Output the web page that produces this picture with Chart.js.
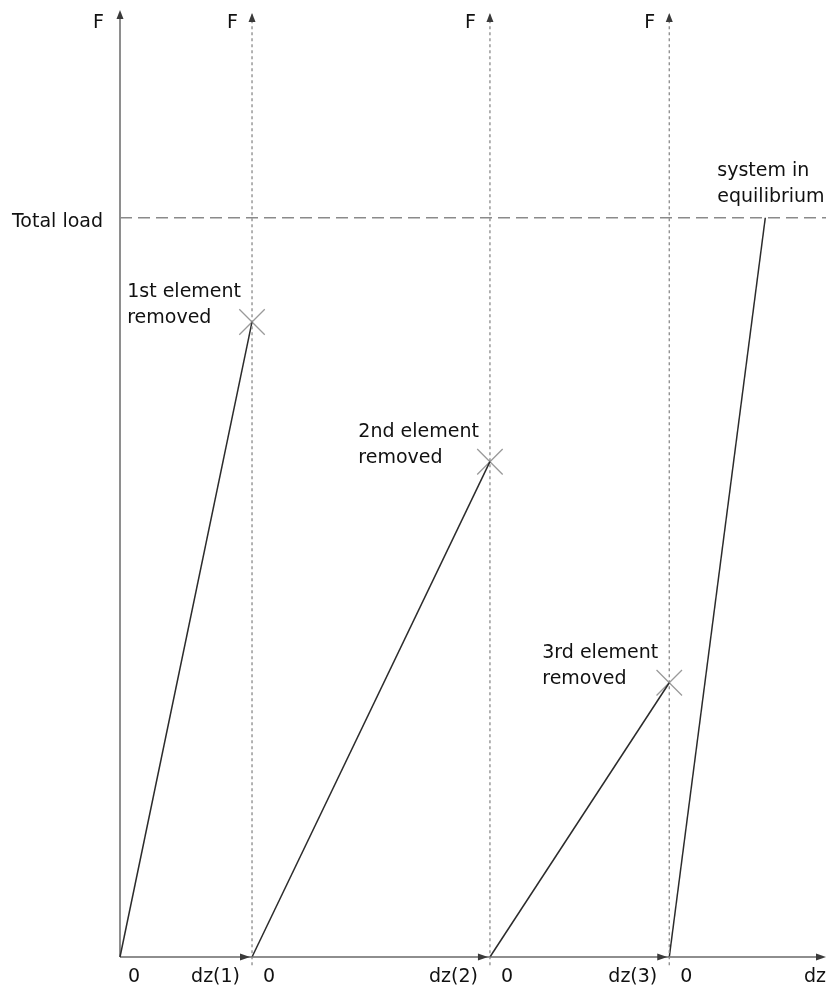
<!DOCTYPE html>
<html>
<head>
<meta charset="utf-8">
<script src="https://cdn.jsdelivr.net/npm/chart.js@4"></script>
<style>
  html, body { margin: 0; padding: 0; background: #fff; }
  #wrap { width: 826px; height: 988px; }
</style>
</head>
<body>
<div id="wrap"><canvas id="loadChart" width="826" height="988"></canvas></div>
<script>
// Displacement where each new stage starts (0, dz(1), dz(2), dz(3))
const stageStarts = [0, 18.7, 52.4, 77.8];
// Force at which each element is removed
const removalLoads = [85.9, 67.0, 37.1];
const totalLoad = 100;
const equilibriumX = 91.4;
const X_MAX = 100;
const Y_MAX = 128.1;

const stageLabels = ['dz(1)', 'dz(2)', 'dz(3)', 'dz'];
const zeroLabel = '0';
const axisLabel = 'F';
const totalLoadLabel = 'Total load';
const eventLabels = [
    ['1st element', 'removed'],
    ['2nd element', 'removed'],
    ['3rd element', 'removed']
];
const equilibriumLabel = ['system in', 'equilibrium'];

const FONT = '19px "DejaVu Sans", Verdana, sans-serif';
const TEXT_COLOR = '#111';

// loading lines: each stage starts at 0 and rises to the next removal (last one to total load)
const stageLines = stageStarts.map((start, i) => {
    const end = i < removalLoads.length
        ? { x: stageStarts[i + 1], y: removalLoads[i] }
        : { x: equilibriumX, y: totalLoad };
    return {
        data: [{ x: start, y: 0 }, end],
        showLine: true,
        borderColor: '#2b2b2b',
        borderWidth: 1.5,
        pointRadius: 0,
        clip: false
    };
});

// dotted vertical axes for the later stages
const stageAxes = stageStarts.slice(1).map(x => ({
    data: [{ x: x, y: -1.1 }, { x: x, y: Y_MAX - 0.6 }],
    showLine: true,
    borderColor: '#8a8a8a',
    borderWidth: 1.3,
    borderDash: [3, 3],
    pointRadius: 0,
    clip: false
}));

const totalLoadLine = {
    data: [{ x: 0, y: totalLoad }, { x: X_MAX, y: totalLoad }],
    showLine: true,
    borderColor: '#8a8a8a',
    borderWidth: 1.5,
    borderDash: [12, 6],
    pointRadius: 0,
    clip: false
};

const removalMarkers = {
    data: removalLoads.map((y, i) => ({ x: stageStarts[i + 1], y: y })),
    showLine: false,
    pointStyle: 'crossRot',
    pointRadius: 18,
    pointBorderColor: '#9a9a9a',
    pointBorderWidth: 1.3,
    pointBackgroundColor: 'transparent',
    clip: false
};

function arrowUp(ctx, x, y) {
    ctx.beginPath();
    ctx.moveTo(x, y);
    ctx.lineTo(x - 3.5, y + 9);
    ctx.lineTo(x + 3.5, y + 9);
    ctx.closePath();
    ctx.fill();
}

function arrowRight(ctx, x, y) {
    ctx.beginPath();
    ctx.moveTo(x, y);
    ctx.lineTo(x - 10, y - 3.5);
    ctx.lineTo(x - 10, y + 3.5);
    ctx.closePath();
    ctx.fill();
}

const annotations = {
    id: 'annotations',
    beforeDatasetsDraw(chart) {
        const ctx = chart.ctx;
        const xs = chart.scales.x, ys = chart.scales.y;
        const x0 = xs.getPixelForValue(0), y0 = ys.getPixelForValue(0);
        ctx.save();
        // main axes
        ctx.strokeStyle = '#6a6a6a';
        ctx.lineWidth = 1.5;
        ctx.beginPath();
        ctx.moveTo(x0, y0);
        ctx.lineTo(x0, ys.getPixelForValue(Y_MAX) + 4);
        ctx.moveTo(x0, y0);
        ctx.lineTo(xs.getPixelForValue(X_MAX) - 4, y0);
        ctx.stroke();
        ctx.restore();
    },
    afterDatasetsDraw(chart) {
        const ctx = chart.ctx;
        const xs = chart.scales.x, ys = chart.scales.y;
        const x0 = xs.getPixelForValue(0), y0 = ys.getPixelForValue(0);
        const yTop = ys.getPixelForValue(Y_MAX);
        ctx.save();
        ctx.fillStyle = '#3a3a3a';
        arrowUp(ctx, x0, yTop);
        stageStarts.slice(1).forEach(v => arrowUp(ctx, xs.getPixelForValue(v), yTop + 3));
        stageStarts.slice(1).forEach(v => arrowRight(ctx, xs.getPixelForValue(v) - 2, y0));
        arrowRight(ctx, xs.getPixelForValue(X_MAX), y0);

        ctx.font = FONT;
        ctx.fillStyle = TEXT_COLOR;
        ctx.textBaseline = 'alphabetic';

        // F labels over each axis
        stageStarts.forEach((v, i) => {
            const px = xs.getPixelForValue(v);
            ctx.textAlign = 'left';
            ctx.fillText(axisLabel, px - (i === 0 ? 27 : 25), yTop + 18);
        });

        // bottom labels
        stageStarts.forEach((v, i) => {
            const px = xs.getPixelForValue(v);
            ctx.textAlign = 'left';
            ctx.fillText(zeroLabel, px + (i === 0 ? 8 : 11), y0 + 25);
        });
        stageLabels.forEach((lab, i) => {
            ctx.textAlign = 'right';
            if (i < stageStarts.length - 1) {
                ctx.fillText(lab, xs.getPixelForValue(stageStarts[i + 1]) - 12, y0 + 25);
            } else {
                ctx.fillText(lab, xs.getPixelForValue(X_MAX), y0 + 25);
            }
        });

        // total load
        const yLoad = ys.getPixelForValue(totalLoad);
        ctx.textAlign = 'right';
        ctx.fillText(totalLoadLabel, x0 - 17, yLoad + 9);

        // removal labels
        eventLabels.forEach((lines, i) => {
            const px = xs.getPixelForValue(stageStarts[i + 1]);
            const py = ys.getPixelForValue(removalLoads[i]);
            const left = px - 11 - ctx.measureText(lines[0]).width;
            ctx.textAlign = 'left';
            ctx.fillText(lines[0], left, py - 25);
            ctx.fillText(lines[1], left, py + 1);
        });

        // equilibrium label
        const ex = xs.getPixelForValue(equilibriumX);
        ctx.textAlign = 'left';
        ctx.fillText(equilibriumLabel[0], ex - 48, yLoad - 42);
        ctx.fillText(equilibriumLabel[1], ex - 48, yLoad - 16);
        ctx.restore();
    }
};

const ctx = document.getElementById('loadChart').getContext('2d');
new Chart(ctx, {
    type: 'scatter',
    data: {
        datasets: [totalLoadLine, ...stageAxes, ...stageLines, removalMarkers]
    },
    options: {
        responsive: false,
        animation: false,
        layout: { autoPadding: false, padding: { left: 120, right: 0, top: 10, bottom: 31 } },
        plugins: {
            legend: { display: false },
            tooltip: { enabled: false }
        },
        scales: {
            x: { type: 'linear', min: 0, max: X_MAX, display: false },
            y: { type: 'linear', min: 0, max: Y_MAX, display: false }
        }
    },
    plugins: [annotations]
});
</script>
</body>
</html>
